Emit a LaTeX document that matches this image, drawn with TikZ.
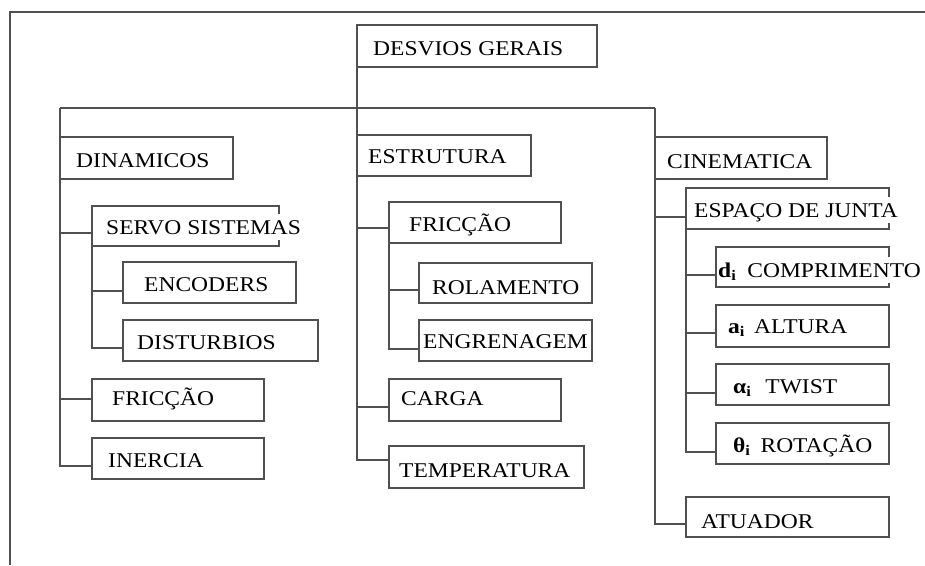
\documentclass[tikz,border=0pt]{standalone}
\usepackage{fontspec}
\setmainfont{Liberation Serif}[FakeStretch=1.12]
\newcommand{\dgfont}{\fontsize{21pt}{25pt}\selectfont}
\definecolor{linec}{RGB}{80,80,80}
\begin{document}
\begin{tikzpicture}[x=1pt,y=-1pt,
  box/.style={draw=linec, line width=1.5pt, anchor=north west, inner sep=0pt, outer sep=0pt},
  lbl/.style={anchor=base west, inner sep=0pt, font=\dgfont, text=black},
  cover/.style={lbl, fill=white, inner xsep=1pt, inner ysep=2pt, text height=18pt, text depth=4pt},
  conn/.style={draw=linec, line width=1.5pt},
  heavyconn/.style={draw=linec, line width=2.4pt}
]
\useasboundingbox (0,0) rectangle (925,565);
% frame
\draw[conn] (10,565) -- (10,12) -- (925,12);

% boxes
\node[box, minimum width=240pt, minimum height=42pt] (desv) at (357,25) {};
\node[box, minimum width=173pt, minimum height=42pt] (dina) at (60,137) {};
\node[box, minimum width=187pt, minimum height=40pt] (serv) at (92,206) {};
\node[box, minimum width=173pt, minimum height=41pt] (enc) at (123,262) {};
\node[box, minimum width=195pt, minimum height=41pt] (dist) at (123,320) {};
\node[box, minimum width=172pt, minimum height=42pt] (fric1) at (92,379) {};
\node[box, minimum width=172pt, minimum height=41pt] (iner) at (92,438) {};
\node[box, minimum width=174pt, minimum height=41pt] (estr) at (357,135) {};
\node[box, minimum width=172pt, minimum height=41pt] (fric2) at (389,202) {};
\node[box, minimum width=173pt, minimum height=40pt] (rola) at (419,263) {};
\node[box, minimum width=173pt, minimum height=41pt] (engr) at (419,320) {};
\node[box, minimum width=172pt, minimum height=42pt] (carga) at (389,379) {};
\node[box, line width=2.5pt, minimum width=195pt, minimum height=42pt] (temp) at (389,446) {};
\node[box, minimum width=172pt, minimum height=42pt] (cine) at (655,137) {};
\node[box, minimum width=203pt, minimum height=41pt] (espa) at (686,188) {};
\node[box, minimum width=173pt, minimum height=40pt] (comp) at (716,247) {};
\node[box, minimum width=173pt, minimum height=42pt] (altu) at (716,305) {};
\node[box, minimum width=173pt, minimum height=41pt] (twis) at (716,364) {};
\node[box, minimum width=173pt, minimum height=41pt] (rota) at (716,423) {};
\node[box, minimum width=203pt, minimum height=40pt] (atua) at (686,497) {};

% labels
\node[lbl] (desv-t) at ([xshift=16pt,yshift=-9pt]desv.west) {DESVIOS GERAIS};
\node[lbl] (dina-t) at ([xshift=16pt,yshift=-9pt]dina.west) {DINAMICOS};
\node[cover] (serv-t) at ([xshift=13pt,yshift=-8pt]serv.west) {SERVO SISTEMAS};
\node[lbl] (enc-t) at ([xshift=21pt,yshift=-9pt]enc.west) {ENCODERS};
\node[lbl] (dist-t) at ([xshift=14pt,yshift=-8.5pt]dist.west) {DISTURBIOS};
\node[lbl] (fric1-t) at ([xshift=20pt,yshift=-5pt]fric1.west) {FRICÇÃO};
\node[lbl] (iner-t) at ([xshift=16pt,yshift=-8.5pt]iner.west) {INERCIA};
\node[lbl] (estr-t) at ([xshift=11pt,yshift=-7.5pt]estr.west) {ESTRUTURA};
\node[lbl] (fric2-t) at ([xshift=20pt,yshift=-8.5pt]fric2.west) {FRICÇÃO};
\node[lbl] (rola-t) at ([xshift=13pt,yshift=-11pt]rola.west) {ROLAMENTO};
\node[lbl] (engr-t) at ([xshift=4pt,yshift=-7.5pt]engr.west) {ENGRENAGEM};
\node[lbl] (carga-t) at ([xshift=12pt,yshift=-5.7pt]carga.west) {CARGA};
\node[lbl] (temp-t) at ([xshift=10pt,yshift=-10pt]temp.west) {TEMPERATURA};
\node[lbl] (cine-t) at ([xshift=12pt,yshift=-10pt]cine.west) {CINEMATICA};
\node[cover] (espa-t) at ([xshift=7pt,yshift=-8.5pt]espa.west) {ESPAÇO DE JUNTA};
\node[cover] (comp-t) at ([xshift=1pt,yshift=-10pt]comp.west) {\textbf{d}\textsubscript{\textbf{i}}\hspace{11pt}COMPRIMENTO};
\node[lbl] (altu-t) at ([xshift=12pt,yshift=-7pt]altu.west) {\textbf{a}\textsubscript{\textbf{i}}\hspace{9pt}ALTURA};
\node[lbl] (twis-t) at ([xshift=17pt,yshift=-8.5pt]twis.west) {\textbf{α}\textsubscript{\textbf{i}}\hspace{14pt}TWIST};
\node[lbl] (rota-t) at ([xshift=17pt,yshift=-8.5pt]rota.west) {\textbf{θ}\textsubscript{\textbf{i}}\hspace{10pt}ROTAÇÃO};
\node[lbl] (atua-t) at ([xshift=15pt,yshift=-11pt]atua.west) {ATUADOR};

% connector points
\coordinate (barmid) at ([yshift=-41pt]desv.south west);
\coordinate (serv-c) at ([yshift=-7pt]serv.west);
\coordinate (enc-c) at ([yshift=-8.5pt]enc.west);
\coordinate (dist-c) at ([yshift=-7.5pt]dist.west);
\coordinate (fric1-c) at ([yshift=1pt]fric1.west);
\coordinate (iner-c) at ([yshift=-7.5pt]iner.west);
\coordinate (fric2-c) at ([yshift=-5.5pt]fric2.west);
\coordinate (rola-c) at ([yshift=-7pt]rola.west);
\coordinate (engr-c) at ([yshift=-8.5pt]engr.west);
\coordinate (carga-c) at ([yshift=-7pt]carga.west);
\coordinate (temp-c) at ([yshift=7pt]temp.west);
\coordinate (espa-c) at ([yshift=-8.5pt]espa.west);
\coordinate (comp-c) at ([yshift=-8pt]comp.west);
\coordinate (altu-c) at ([yshift=-7pt]altu.west);
\coordinate (twis-c) at ([yshift=-8.5pt]twis.west);
\coordinate (rota-c) at ([yshift=-8.5pt]rota.west);
\coordinate (atua-c) at ([yshift=-7pt]atua.west);

% connectors
\draw[conn] (desv.south west) -- (desv.south west |- temp-c) -- (temp-c);
\draw[conn] (barmid -| dina.west) -- (barmid -| cine.west);
\draw[conn] (barmid -| dina.west) |- (iner-c);
\draw[conn] (serv-c -| dina.west) -- (serv-c);
\draw[conn] (fric1-c -| dina.west) -- (fric1-c);
\draw[heavyconn] (serv.south west) |- (dist-c);
\draw[heavyconn] (enc-c -| serv.west) -- (enc-c);
\draw[conn] (fric2-c -| estr.west) -- (fric2-c);
\draw[conn] (carga-c -| estr.west) -- (carga-c);
\draw[conn] (fric2.south west) |- (engr-c);
\draw[heavyconn] (rola-c -| fric2.west) -- (rola-c);
\draw[conn] (barmid -| cine.west) |- (atua-c);
\draw[conn] (espa-c -| cine.west) -- (espa-c);
\draw[conn] (espa.south west) |- (rota-c);
\draw[conn] (comp-c -| espa.west) -- (comp-c);
\draw[conn] (altu-c -| espa.west) -- (altu-c);
\draw[conn] (twis-c -| espa.west) -- (twis-c);
\end{tikzpicture}
\end{document}
